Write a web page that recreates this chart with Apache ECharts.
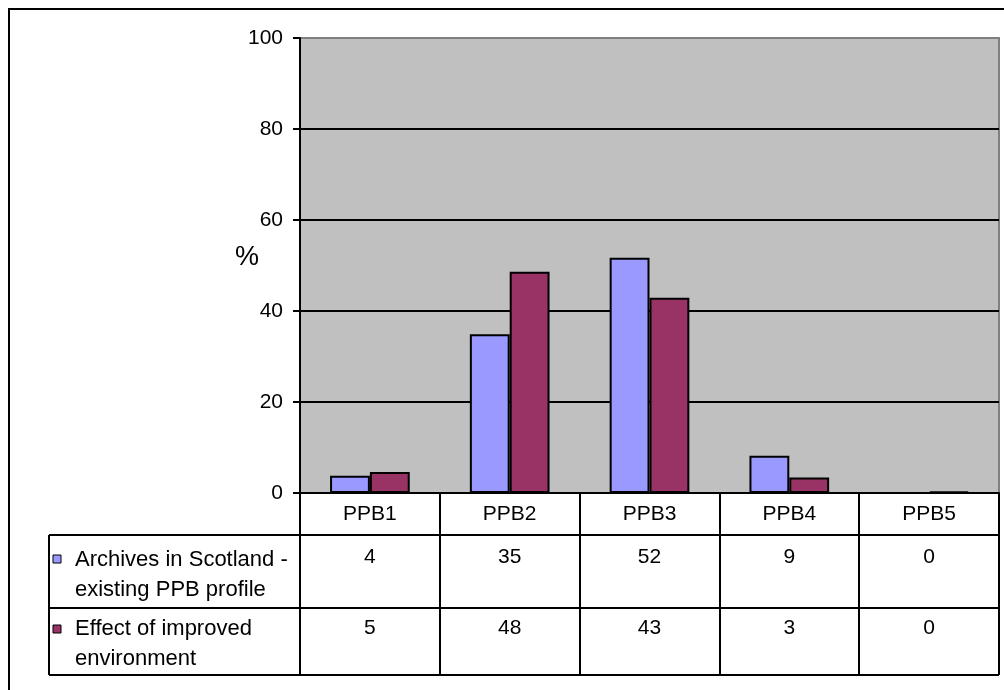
<!DOCTYPE html>
<html>
<head>
<meta charset="utf-8">
<script src="https://cdn.jsdelivr.net/npm/echarts@6/dist/echarts.min.js"></script>
<style>
html,body{margin:0;padding:0;background:#fff;}
#chart{width:1004px;height:690px;}
</style>
</head>
<body>
<div id="chart"></div>
<script>
const categories = ['PPB1', 'PPB2', 'PPB3', 'PPB4', 'PPB5'];
const seriesNames = ['Archives in Scotland -\nexisting PPB profile', 'Effect of improved\nenvironment'];
const archivesValues = [3.8, 34.9, 51.7, 8.2, 0];
const improvedValues = [4.6, 48.6, 42.9, 3.4, 0.3];
const archivesTable = ['4', '35', '52', '9', '0'];
const improvedTable = ['5', '48', '43', '3', '0'];
const seriesColors = ['#9999FF', '#993366'];
const yTicks = { min: 0, max: 100, interval: 20 };
const yTitle = '%';

const FONT = '"Liberation Sans", Arial, sans-serif';
const W = 1004, H = 690;
const grid = { left: 300, right: 5, top: 38, bottom: 197 };
const plotBottom = H - grid.bottom;           // 493
const headerBottom = 535, row1Bottom = 608, tableBottom = 675, tableLeft = 49;
const tableRight = W - grid.right;

const chart = echarts.init(document.getElementById('chart'), null, { renderer: 'canvas' });

function rowAxis(labels, margin) {
  return {
    type: 'category', data: categories, position: 'bottom', gridIndex: 0,
    axisLine: { show: false }, axisTick: { show: false }, splitLine: { show: false },
    axisLabel: {
      margin: margin, color: '#000', fontFamily: FONT, fontSize: 21,
      formatter: (v, i) => labels[i]
    }
  };
}

const option = {
  animation: false,
  backgroundColor: '#fff',
  grid: {
    left: grid.left, right: grid.right, top: grid.top, bottom: grid.bottom,
    show: true, backgroundColor: '#C0C0C0', borderColor: '#808080', borderWidth: 2
  },
  xAxis: [
    {
      type: 'category', data: categories, gridIndex: 0,
      axisLine: { show: true, lineStyle: { color: '#000', width: 2 } },
      axisTick: { show: true, length: tableBottom - plotBottom, lineStyle: { color: '#000', width: 2 } },
      axisLabel: { margin: 11, color: '#000', fontFamily: FONT, fontSize: 21 },
      splitLine: { show: false }
    },
    rowAxis(archivesTable, 54),
    rowAxis(improvedTable, 125)
  ],
  yAxis: {
    type: 'value', min: yTicks.min, max: yTicks.max, interval: yTicks.interval,
    axisLine: { show: true, lineStyle: { color: '#000', width: 2 } },
    axisTick: { show: true, length: 7, lineStyle: { color: '#000', width: 2 } },
    axisLabel: { margin: 17, color: '#000', fontFamily: FONT, fontSize: 21 },
    splitLine: { show: true, lineStyle: { color: ['#000', '#000', '#000', '#000', '#000', '#808080'], width: 2 } }
  },
  series: [
    {
      name: seriesNames[0], type: 'bar', data: archivesValues, xAxisIndex: 0,
      barGap: '0%', barCategoryGap: '43%',
      itemStyle: { color: seriesColors[0], borderColor: '#000', borderWidth: 2 }
    },
    {
      name: seriesNames[1], type: 'bar', data: improvedValues, xAxisIndex: 0,
      barGap: '0%', barCategoryGap: '43%',
      itemStyle: { color: seriesColors[1], borderColor: '#000', borderWidth: 2 }
    }
  ],
  graphic: [
    { type: 'rect', shape: { x: 9, y: 9, width: 1200, height: 800 }, style: { fill: 'none', stroke: '#000', lineWidth: 2 }, silent: true },
    { type: 'text', x: 247, y: 258, style: { text: yTitle, fill: '#000', font: '27px ' + FONT, align: 'center', verticalAlign: 'middle' } },
    { type: 'line', shape: { x1: tableLeft, y1: headerBottom, x2: tableRight, y2: headerBottom }, style: { stroke: '#000', lineWidth: 2 } },
    { type: 'line', shape: { x1: tableLeft, y1: row1Bottom, x2: tableRight, y2: row1Bottom }, style: { stroke: '#000', lineWidth: 2 } },
    { type: 'line', shape: { x1: tableLeft, y1: tableBottom, x2: tableRight, y2: tableBottom }, style: { stroke: '#000', lineWidth: 2 } },
    { type: 'line', shape: { x1: tableLeft, y1: headerBottom, x2: tableLeft, y2: tableBottom }, style: { stroke: '#000', lineWidth: 2 } },
    { type: 'rect', shape: { x: 53, y: 555, width: 8, height: 8 }, style: { fill: seriesColors[0], stroke: '#000', lineWidth: 1 } },
    { type: 'text', x: 75, y: 545, style: { text: seriesNames[0], fill: '#000', font: '22px ' + FONT, lineHeight: 30, verticalAlign: 'top' } },
    { type: 'rect', shape: { x: 53, y: 625, width: 8, height: 8 }, style: { fill: seriesColors[1], stroke: '#000', lineWidth: 1 } },
    { type: 'text', x: 75, y: 614, style: { text: seriesNames[1], fill: '#000', font: '22px ' + FONT, lineHeight: 30, verticalAlign: 'top' } }
  ]
};
chart.setOption(option);
</script>
</body>
</html>
